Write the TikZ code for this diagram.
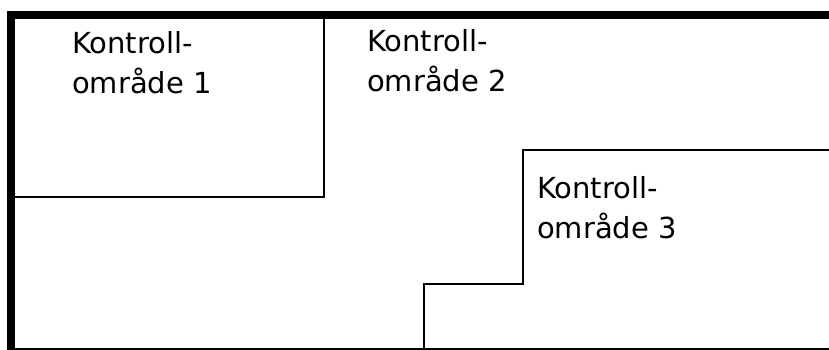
\documentclass[tikz,border=0pt]{standalone}
\usepackage{fontspec}
\setmainfont{DejaVu Sans}
\usetikzlibrary{calc}

\begin{document}
\begin{tikzpicture}[x=1pt, y=-1pt,
    wall/.style={line width=8pt},
    bound/.style={line width=2pt},
    area/.style={anchor=north west, inner sep=0pt, align=left,
        font=\fontsize{29}{40}\selectfont}]
    \useasboundingbox (0,0) rectangle (829,350);

    % Corners of the control areas
    \coordinate (cA) at (324,15);
    \coordinate (cB) at (324,197);
    \coordinate (cC) at (523,150);
    \coordinate (cD) at (523,284);
    \coordinate (cE) at (424,284);
    \coordinate (cF) at (424,349);

    % Thick outer walls, left and top
    \draw[wall] (11,15) -- (11,350);
    \draw[wall] (7,15) -- (829,15);

    % Bottom edge
    \draw[bound, line width=3pt] (15,349) -- (829,349);

    % Area 1, box in the top left corner
    \draw[bound] (cA) -- (cB) -- (15,197);

    % Area 3, stepped border
    \draw[bound] (829,150) -- (cC) -- (cD) -- (cE) -- (cF);

    % Labels of the areas
    \node[area] (omr1) at (72,31) {Kontroll-\\område 1};
    \node[area] (omr2) at (367,29) {Kontroll-\\område 2};
    \node[area] (omr3) at (537,176) {Kontroll-\\område 3};

\end{tikzpicture}
\end{document}
